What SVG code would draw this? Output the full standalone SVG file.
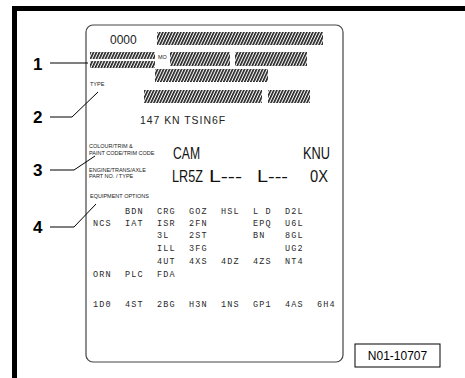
<svg xmlns="http://www.w3.org/2000/svg" width="465" height="378" viewBox="0 0 465 378">
<defs>
<pattern id="hatch" width="3" height="14" patternUnits="userSpaceOnUse" patternTransform="skewX(-25)">
<rect x="0" y="0" width="1.8" height="14" fill="#222"/>
</pattern>
<style>
.num{font-family:"Liberation Sans",Arial,sans-serif;font-weight:bold;font-size:17px;fill:#000}
.lead{fill:none;stroke:#000;stroke-width:1}
.big{font-family:"Liberation Sans",Arial,sans-serif;font-size:16px;fill:#111}
.cap{font-family:"Liberation Sans",Arial,sans-serif;font-size:5.5px;fill:#222}
.code{font-family:"Liberation Mono",monospace;font-size:8.5px;letter-spacing:1.2px;fill:#2a2a2a}
.hat{fill:url(#hatch)}
</style>
</defs>
<rect x="0" y="0" width="465" height="378" fill="#fff"/>
<g id="frame">
<rect x="12" y="6" width="453" height="5" fill="#000"/>
<rect x="12" y="6" width="5" height="372" fill="#000"/>
</g>
<g id="label">
<rect x="86" y="25" width="257" height="337" rx="7" fill="#fff" stroke="#444" stroke-width="1.2"/>
<text x="110" y="44" font-family="Liberation Sans, Arial, sans-serif" font-size="12" fill="#222">0000</text>
<rect class="hat" x="157" y="32" width="166" height="13"/>
<rect class="hat" x="90" y="52" width="65" height="7"/>
<rect class="hat" x="90" y="61" width="65" height="7"/>
<text x="158" y="59" class="cap">MO</text>
<rect class="hat" x="170" y="52" width="60" height="14"/>
<rect class="hat" x="235" y="52" width="72" height="14"/>
<rect class="hat" x="155" y="69" width="113" height="13"/>
<text x="90" y="86" class="cap">TYPE</text>
<rect class="hat" x="144" y="90" width="118" height="13"/>
<rect class="hat" x="268" y="90" width="42" height="13"/>
<text x="140" y="124" font-family="Liberation Sans, Arial, sans-serif" font-size="11" letter-spacing="1" fill="#222" textLength="86" lengthAdjust="spacingAndGlyphs">147  KN  TSIN6F</text>
<text x="89" y="148" class="cap">COLOUR/TRIM &amp;</text>
<text x="89" y="155" class="cap">PAINT CODE/TRIM CODE</text>
<text class="big" x="173" y="159" textLength="27" lengthAdjust="spacingAndGlyphs">CAM</text>
<text class="big" x="303" y="159" textLength="27" lengthAdjust="spacingAndGlyphs">KNU</text>
<text x="89" y="172" class="cap">ENGINE/TRANS/AXLE</text>
<text x="89" y="178" class="cap">PART NO. / TYPE</text>
<text class="big" x="172" y="182" textLength="31" lengthAdjust="spacingAndGlyphs">LR5Z</text>
<text class="big" x="209" y="182" textLength="33" lengthAdjust="spacingAndGlyphs">L---</text>
<text class="big" x="257" y="182" textLength="31" lengthAdjust="spacingAndGlyphs">L---</text>
<text class="big" x="310" y="182" textLength="18" lengthAdjust="spacingAndGlyphs">0X</text>
<text x="90" y="198" class="cap">EQUIPMENT OPTIONS</text>
<g class="code">
<text x="125" y="214">BDN</text><text x="157" y="214">CRG</text><text x="189" y="214">GOZ</text><text x="221" y="214">HSL</text><text x="253" y="214">L D</text><text x="285" y="214">D2L</text>
<text x="93" y="226">NCS</text><text x="125" y="226">IAT</text><text x="157" y="226">ISR</text><text x="189" y="226">2FN</text><text x="253" y="226">EPQ</text><text x="285" y="226">U6L</text>
<text x="157" y="238">3L</text><text x="189" y="238">2ST</text><text x="253" y="238">BN</text><text x="285" y="238">8GL</text>
<text x="157" y="251">ILL</text><text x="189" y="251">3FG</text><text x="285" y="251">UG2</text>
<text x="157" y="264">4UT</text><text x="189" y="264">4XS</text><text x="221" y="264">4DZ</text><text x="253" y="264">4ZS</text><text x="285" y="264">NT4</text>
<text x="93" y="277">ORN</text><text x="125" y="277">PLC</text><text x="157" y="277">FDA</text>
<text x="93" y="307">1D0</text><text x="125" y="307">4ST</text><text x="157" y="307">2BG</text><text x="189" y="307">H3N</text><text x="221" y="307">1NS</text><text x="253" y="307">GP1</text><text x="285" y="307">4AS</text><text x="317" y="307">6H4</text>
</g>
</g>
<g id="connectors">
<path class="lead" d="M50,63 H88"/>
<path class="lead" d="M50,117 H72 L98,92"/>
<path class="lead" d="M50,170 H74 L95,156"/>
<path class="lead" d="M50,227 H74 L96,204"/>
</g>
<g id="callout-1"><text class="num" x="33" y="70">1</text></g>
<g id="callout-2"><text class="num" x="33" y="123">2</text></g>
<g id="callout-3"><text class="num" x="33" y="176">3</text></g>
<g id="callout-4"><text class="num" x="33" y="233">4</text></g>
<g id="figure-id">
<rect x="355" y="344" width="85" height="23" fill="#fff" stroke="#000" stroke-width="1"/>
<text x="397.5" y="360" text-anchor="middle" font-family="Liberation Sans, Arial, sans-serif" font-size="12" fill="#000">N01-10707</text>
</g>
</svg>
